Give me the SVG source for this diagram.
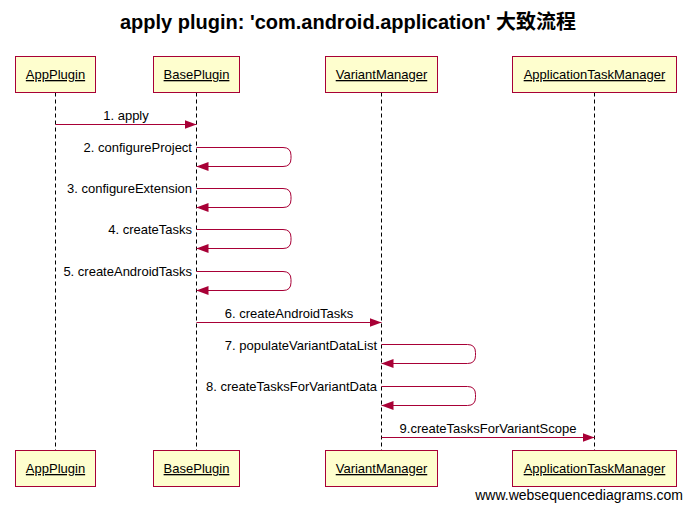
<svg xmlns="http://www.w3.org/2000/svg" width="692" height="512" viewBox="0 0 692 512">
<style>
.box{fill:#FEFECE;stroke:#A80036;stroke-width:1}
.lbl{font-family:"Liberation Sans",Arial,sans-serif;font-size:13px;fill:#000;text-anchor:middle;text-decoration:underline}
.life{stroke:#000;stroke-width:1;stroke-dasharray:4 3;fill:none}
.msg{stroke:#A80036;stroke-width:1;fill:none;marker-end:url(#ah)}
.mt{font-family:"Liberation Sans",Arial,sans-serif;font-size:13px;fill:#000}
.r{text-anchor:end}
.c{text-anchor:middle}
</style>
<defs>
<marker id="ah" markerUnits="userSpaceOnUse" markerWidth="12" markerHeight="10" refX="12" refY="4.5" orient="auto">
<path d="M0,0 L12,4.5 L0,9 z" fill="#A80036"/>
</marker>
</defs>
<rect width="692" height="512" fill="#fff"/>
<text x="348" y="29" font-family="'Liberation Sans','Noto Sans CJK SC',sans-serif" font-size="20" font-weight="bold" text-anchor="middle" fill="#000">apply plugin: 'com.android.application' 大致流程</text>

<g id="lifelines">
<line class="life" x1="55.5" y1="92.5" x2="55.5" y2="450.5"/>
<line class="life" x1="196.5" y1="92.5" x2="196.5" y2="450.5"/>
<line class="life" x1="381.5" y1="92.5" x2="381.5" y2="450.5"/>
<line class="life" x1="594.5" y1="92.5" x2="594.5" y2="450.5"/>
</g>

<g id="AppPlugin">
<rect class="box" x="15.5" y="56.5" width="80" height="36"/>
<text class="lbl" x="55.5" y="79">AppPlugin</text>
<rect class="box" x="15.5" y="450.5" width="80" height="36"/>
<text class="lbl" x="55.5" y="473">AppPlugin</text>
</g>
<g id="BasePlugin">
<rect class="box" x="153.5" y="56.5" width="86" height="36"/>
<text class="lbl" x="196.5" y="79">BasePlugin</text>
<rect class="box" x="153.5" y="450.5" width="86" height="36"/>
<text class="lbl" x="196.5" y="473">BasePlugin</text>
</g>
<g id="VariantManager">
<rect class="box" x="325.5" y="56.5" width="112" height="36"/>
<text class="lbl" x="381.5" y="79">VariantManager</text>
<rect class="box" x="325.5" y="450.5" width="112" height="36"/>
<text class="lbl" x="381.5" y="473">VariantManager</text>
</g>
<g id="ApplicationTaskManager">
<rect class="box" x="512.5" y="56.5" width="164" height="36"/>
<text class="lbl" x="594.5" y="79">ApplicationTaskManager</text>
<rect class="box" x="512.5" y="450.5" width="164" height="36"/>
<text class="lbl" x="594.5" y="473">ApplicationTaskManager</text>
</g>

<g id="connectors">
<path class="msg" d="M55.5,124.5 H196.5"/>
<text class="mt c" x="126" y="120">1. apply</text>
<path class="msg" d="M196.5,147.5 H283 Q291,147.5 291,155.5 V158.5 Q291,166.5 283,166.5 H196.5"/>
<text class="mt r" x="192" y="152">2. configureProject</text>
<path class="msg" d="M196.5,188.5 H283 Q291,188.5 291,196.5 V199.5 Q291,207.5 283,207.5 H196.5"/>
<text class="mt r" x="192" y="193">3. configureExtension</text>
<path class="msg" d="M196.5,229.5 H283 Q291,229.5 291,237.5 V240.5 Q291,248.5 283,248.5 H196.5"/>
<text class="mt r" x="192" y="234">4. createTasks</text>
<path class="msg" d="M196.5,271.5 H283 Q291,271.5 291,279.5 V282.5 Q291,290.5 283,290.5 H196.5"/>
<text class="mt r" x="192" y="276">5. createAndroidTasks</text>
<path class="msg" d="M196.5,322.5 H381.5"/>
<text class="mt c" x="289" y="317.5">6. createAndroidTasks</text>
<path class="msg" d="M381.5,344.5 H467.5 Q475.5,344.5 475.5,352.5 V355.5 Q475.5,363.5 467.5,363.5 H381.5"/>
<text class="mt r" x="377" y="350">7. populateVariantDataList</text>
<path class="msg" d="M381.5,386.5 H467.5 Q475.5,386.5 475.5,394.5 V397.5 Q475.5,405.5 467.5,405.5 H381.5"/>
<text class="mt r" x="377" y="391">8. createTasksForVariantData</text>
<path class="msg" d="M381.5,437.5 H594.5"/>
<text class="mt c" x="488" y="432.5">9.createTasksForVariantScope</text>
</g>

<text x="683" y="500" font-family="'Liberation Sans',Arial,sans-serif" font-size="14" text-anchor="end" fill="#000">www.websequencediagrams.com</text>
</svg>
